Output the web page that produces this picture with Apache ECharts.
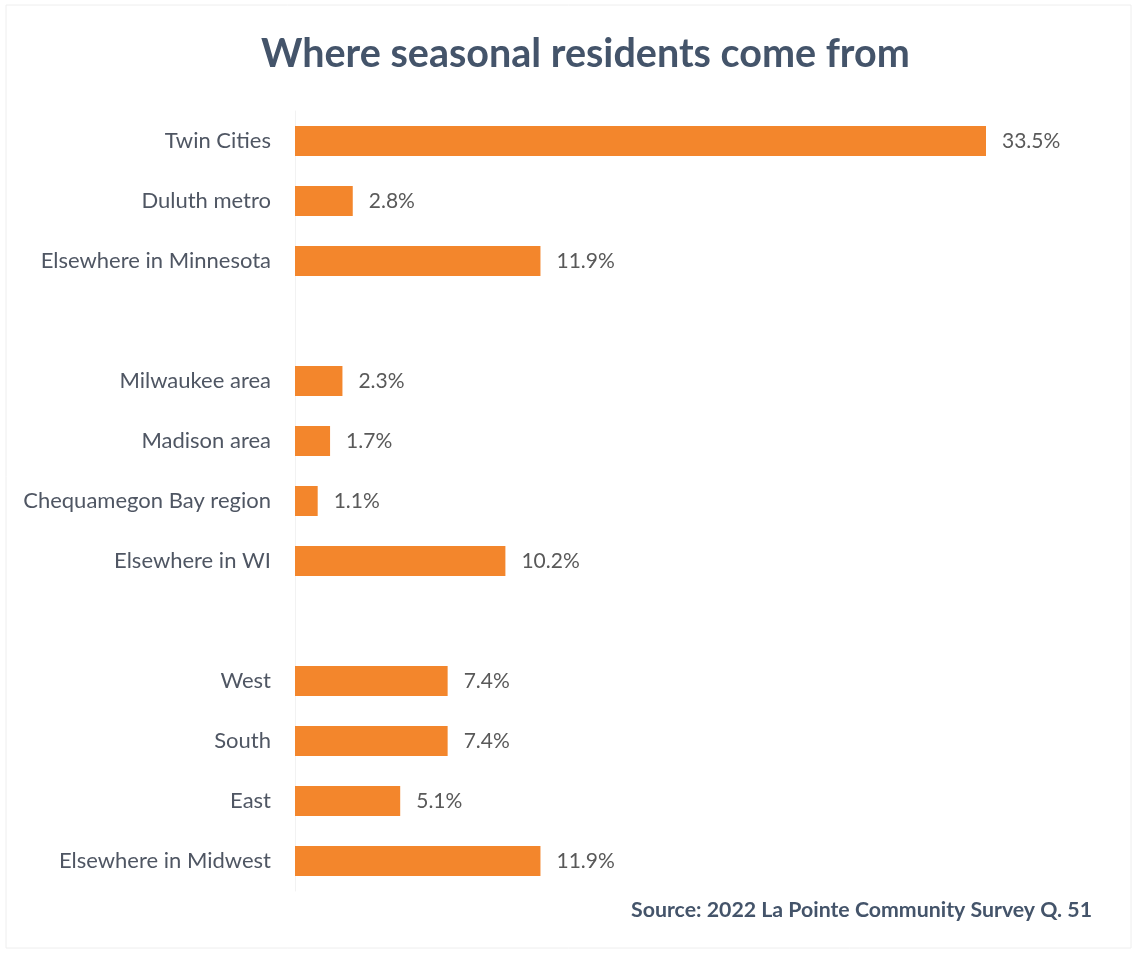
<!DOCTYPE html>
<html>
<head>
<meta charset="utf-8">
<script src="https://cdn.jsdelivr.net/npm/echarts@6/dist/echarts.min.js"></script>
<style>
  html, body { margin: 0; padding: 0; background: #ffffff; }
  #chart { width: 1137px; height: 953px; }
</style>
</head>
<body>
<div id="chart"></div>
<script>
// Origin groups; empty strings are spacer rows between groups
const categories = [
  'Twin Cities', 'Duluth metro', 'Elsewhere in Minnesota', '',
  'Milwaukee area', 'Madison area', 'Chequamegon Bay region', 'Elsewhere in WI', '',
  'West', 'South', 'East', 'Elsewhere in Midwest'
];
// Share of seasonal residents, percent
const shares = [
  33.5, 2.8, 11.9, null,
  2.3, 1.7, 1.1, 10.2, null,
  7.4, 7.4, 5.1, 11.9
];
const titleText = 'Where seasonal residents come from';
const sourceText = 'Source: 2022 La Pointe Community Survey Q. 51';

const FONT = 'Lato, "Open Sans", sans-serif';
const chart = echarts.init(document.getElementById('chart'), null, { renderer: 'canvas' });

chart.setOption({
  backgroundColor: '#ffffff',
  animation: false,
  title: {
    text: titleText,
    left: 256,
    top: 29,
    textStyle: { fontFamily: FONT, fontSize: 39.5, fontWeight: 'bold', color: '#44546A' }
  },
  graphic: [
    {
      type: 'rect',
      shape: { x: 6, y: 5, width: 1125, height: 943 },
      style: { fill: 'none', stroke: '#eeeeee', lineWidth: 1 },
      silent: true
    },
    {
      type: 'text',
      right: 45,
      top: 900,
      style: {
        text: sourceText,
        font: 'bold 21.3px ' + FONT,
        fill: '#44546A'
      }
    }
  ],
  grid: { left: 295, right: 151, top: 111, height: 780, containLabel: false },
  xAxis: {
    type: 'value',
    min: 0,
    max: 33.5,
    show: false
  },
  yAxis: {
    type: 'category',
    inverse: true,
    data: categories,
    axisLine: { show: true, lineStyle: { color: '#f2f2f2' } },
    axisTick: { show: false },
    axisLabel: {
      margin: 24,
      fontFamily: FONT,
      fontSize: 22,
      color: '#4F5663'
    }
  },
  series: [{
    type: 'bar',
    data: shares,
    barWidth: 30,
    itemStyle: { color: '#F3862C' },
    label: {
      show: true,
      position: 'right',
      distance: 16,
      fontFamily: FONT,
      fontSize: 21,
      color: '#595959',
      formatter: p => (p.value == null ? '' : p.value.toFixed(1) + '%')
    }
  }]
});
</script>
</body>
</html>
